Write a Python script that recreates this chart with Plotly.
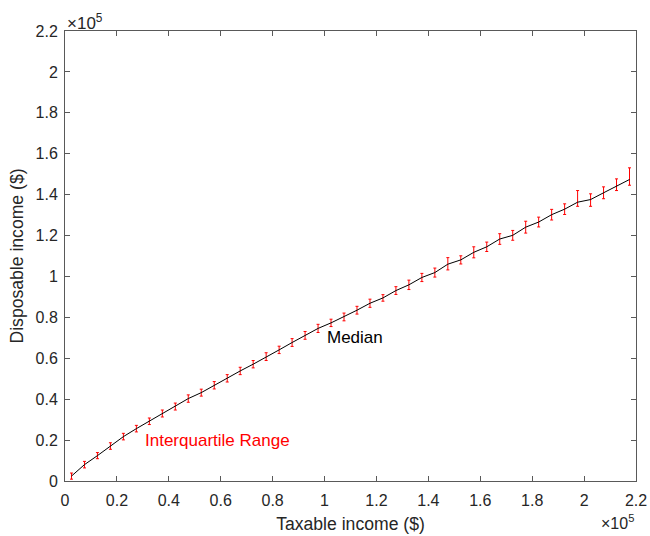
import plotly.graph_objects as go

# Taxable income bin centres ($)
taxable = [2500 + 5000 * i for i in range(44)]
# Median disposable income (in $1000)
median_k = [2.4, 8.0, 12.4, 17.1, 21.7, 25.6, 29.2, 33.0, 36.4, 40.3,
            43.2, 46.8, 50.2, 53.8, 57.1, 60.8, 64.1, 67.7, 71.2, 74.6,
            77.3, 80.2, 83.5, 86.9, 89.5, 93.1, 95.9, 99.5, 101.9, 106.0,
            108.1, 111.8, 114.5, 118.3, 120.1, 124.1, 126.6, 130.2, 132.9, 136.3,
            137.6, 140.9, 144.1, 147.4]
# Distance to upper quartile (in $1000)
upper_k = [1.5, 1.6, 1.5, 1.6, 1.6, 1.6, 1.6, 1.7, 1.7, 1.8,
           1.7, 1.8, 1.8, 1.8, 1.8, 1.9, 1.8, 1.9, 1.9, 2.0,
           1.8, 1.9, 1.9, 2.0, 1.6, 1.9, 2.3, 2.0, 2.2, 3.2,
           2.0, 2.7, 2.3, 2.6, 2.4, 2.9, 2.4, 2.6, 2.6, 5.7,
           2.8, 2.9, 3.6, 5.7]
# Distance to lower quartile (in $1000)
lower_k = [1.5, 1.6, 1.5, 1.6, 1.6, 1.6, 1.6, 1.7, 1.7, 1.8,
           1.7, 1.8, 1.8, 1.8, 1.8, 1.9, 1.8, 1.9, 1.9, 2.0,
           1.8, 1.9, 1.9, 2.0, 1.6, 1.9, 2.3, 2.0, 2.2, 2.8,
           2.0, 2.7, 2.3, 2.6, 2.4, 2.9, 2.4, 2.6, 2.6, 2.0,
           3.3, 2.9, 2.1, 2.8]

tick_labels = ["0", "0.2", "0.4", "0.6", "0.8", "1", "1.2", "1.4", "1.6", "1.8", "2", "2.2"]
tick_vals = [float(t) * 1e5 for t in tick_labels]

median = [v * 1000 for v in median_k]
upper = [v * 1000 for v in upper_k]
lower = [v * 1000 for v in lower_k]

axis_col = "#262626"
line_col = "#595959"
font_family = "Liberation Sans, Arial, sans-serif"

fig = go.Figure()
fig.add_trace(go.Scatter(
    x=taxable, y=median, mode="lines",
    line=dict(color="rgba(0,0,0,0)", width=1),
    error_y=dict(type="data", symmetric=False, array=upper, arrayminus=lower,
                 color="#ff0000", thickness=1, width=1.5),
    showlegend=False, hoverinfo="skip"))
fig.add_trace(go.Scatter(
    x=taxable, y=median, mode="lines",
    line=dict(color="black", width=1),
    showlegend=False))

axis_common = dict(
    range=[0, 220000], tickvals=tick_vals, ticktext=tick_labels,
    showgrid=False, zeroline=False, showline=True, linecolor=line_col,
    linewidth=1, mirror="ticks", ticks="inside", ticklen=5, tickcolor=line_col,
    tickfont=dict(size=16, color=axis_col, family=font_family),
    automargin=False,
)

fig.update_layout(
    width=650, height=536,
    margin=dict(l=65, r=14, t=31, b=55),
    paper_bgcolor="white", plot_bgcolor="white",
    font=dict(family=font_family, color=axis_col),
    xaxis=dict(**axis_common, ticklabelstandoff=5,
               title=dict(text="Taxable income ($)", font=dict(size=17.6, color=axis_col), standoff=9)),
    yaxis=dict(**axis_common, ticklabelstandoff=3,
               title=dict(text="Disposable income ($)", font=dict(size=17.6, color=axis_col), standoff=7)),
    annotations=[
        dict(x=100000, y=70000, xref="x", yref="y", text="Median", showarrow=False,
             xanchor="left", yanchor="middle", font=dict(size=17, color="black", family=font_family)),
        dict(x=30000, y=20000, xref="x", yref="y", text="Interquartile Range", showarrow=False,
             xanchor="left", yanchor="middle", font=dict(size=17, color="red", family=font_family)),
        dict(x=0, y=1, xref="paper", yref="paper", text="×10<sup>5</sup>", showarrow=False,
             xanchor="left", yanchor="bottom", yshift=-4,
             font=dict(size=17, color=axis_col, family=font_family)),
        dict(x=1, y=0, xref="paper", yref="paper", text="×10<sup>5</sup>", showarrow=False,
             xanchor="right", yanchor="top", yshift=-29,
             font=dict(size=16, color=axis_col, family=font_family)),
    ],
)

fig.write_html("out.html")
